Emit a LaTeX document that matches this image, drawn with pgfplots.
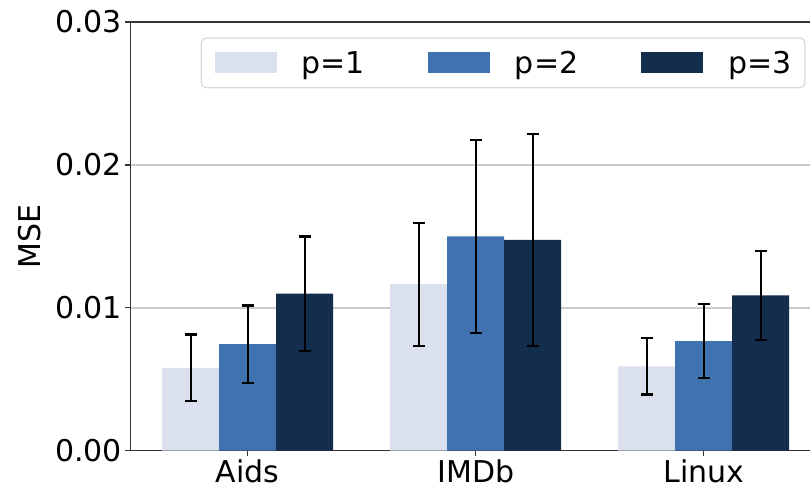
\documentclass[border=0pt]{standalone}
\usepackage{fontspec}
\setmainfont{DejaVu Sans}
\usepackage{pgfplots}
\pgfplotsset{compat=1.18}
\definecolor{cA}{RGB}{218,224,238}
\definecolor{cB}{RGB}{64,114,175}
\definecolor{cC}{RGB}{19,45,77}
\newcommand{\bigfnt}{\fontsize{30pt}{36pt}\selectfont}
\begin{document}
\begin{tikzpicture}
\begin{axis}[
  at={(0,0)}, anchor=south west,
  scale only axis, width=689.7pt, height=428.7pt,
  xmin=-0.5125, xmax=2.5125, ymin=0, ymax=0.03,
  xtick={0,1,2}, xticklabels={Aids,IMDb,Linux},
  ytick={0,0.01,0.02,0.03},
  scaled y ticks=false,
  /pgf/number format/assume math mode=true,
  y tick label style={/pgf/number format/fixed, /pgf/number format/fixed zerofill, /pgf/number format/precision=2},
  tick label style={font=\bigfnt},
  label style={font=\bigfnt},
  ylabel={MSE}, ylabel shift=7pt,
  ybar, bar width=57pt, bar shift=0pt,
  ymajorgrids,
  major grid style={line width=1.4pt, black!20},
  axis line style={line width=1.3pt, black!80},
  tick align=outside, major tick length=5.5pt,
  tick style={line width=1.3pt, black!80},
  xtick pos=left, ytick pos=left,
  error bars/y dir=both, error bars/y explicit,
  error bars/error bar style={draw=black, line width=2.3pt},
  error bars/error mark options={rotate=90, draw=black, line width=2.3pt, mark size=6pt},
  legend columns=3,
  legend image code/.code={\fill[#1, sharp corners] (0pt,-10.5pt) rectangle (62pt,10.5pt);},
  legend style={at={(1,1)}, anchor=north east, xshift=-14.9pt, yshift=-15.3pt,
    draw=black!15, line width=1.3pt, rounded corners=5pt,
    inner xsep=13.5pt, inner ysep=13pt, nodes={inner sep=0pt},
    /tikz/every odd column/.append style={column sep=25pt},
    /tikz/every even column/.append style={column sep=63pt},
    font=\bigfnt},
]
\addplot[fill=cA, draw=none] coordinates {
  (-0.25,0.00580) +- (0,0.00233)
  (0.75,0.01165) +- (0,0.0043)
  (1.75,0.00590) +- (0,0.00197)
};
\addplot[fill=cB, draw=none] coordinates {
  (0,0.00745) +- (0,0.00272)
  (1,0.01499) +- (0,0.00676)
  (2,0.00767) +- (0,0.00258)
};
\addplot[fill=cC, draw=none] coordinates {
  (0.25,0.01100) +- (0,0.0040)
  (1.25,0.01475) +- (0,0.0074)
  (2.25,0.01087) +- (0,0.00312)
};
\legend{p=1,p=2,p=3}
\end{axis}
\pgfresetboundingbox
\useasboundingbox (-130.85pt,-40.3pt) rectangle (679.15pt,450.7pt);
\end{tikzpicture}
\end{document}
